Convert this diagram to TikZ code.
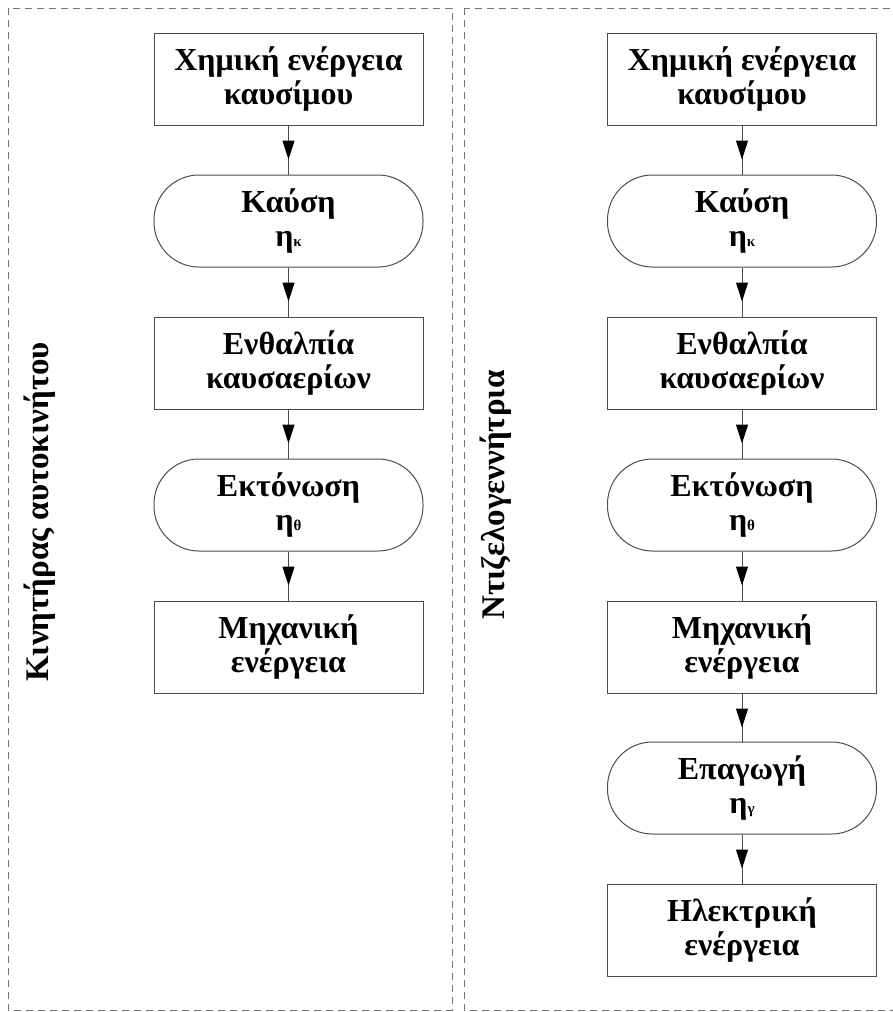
\documentclass[tikz,border=0pt]{standalone}
\usepackage{fontspec}
\setmainfont{Liberation Serif}
\usetikzlibrary{arrows.meta,decorations.markings}
\newcommand{\sbs}[1]{{\fontsize{15}{15}\selectfont #1}}
\tikzset{
  frame/.style={draw=black!55, line width=0.9pt, dash pattern=on 7pt off 5pt},
  box/.style={draw=black!70, line width=1pt, minimum width=269pt, minimum height=92pt,
    align=center, font=\fontsize{32}{34}\selectfont\bfseries, inner sep=0pt},
  proc/.style={box, rounded corners=45pt},
  flow/.style={draw=black!70, line width=1pt, postaction={decorate},
    decoration={markings, mark=at position 34pt with {\arrow[black]{Triangle[length=19pt,width=12pt]}}}},
  side/.style={rotate=90, font=\fontsize{33}{34}\selectfont\bfseries}
}
\begin{document}
\begin{tikzpicture}[x=1pt,y=-1pt]
\useasboundingbox (0,0) rectangle (893,1012);
\draw[frame] (8,8) rectangle (452,1010);
\draw[frame] (464,8) rectangle (905,1010);
\node[side] (lab1) at (40,512) {Κινητήρας αυτοκινήτου};
\node[side] (lab2) at (496,495) {Ντιζελογεννήτρια};
% left column
\node[box]  (a1) at (288.5,79)  {Χημική ενέργεια\\καυσίμου};
\node[proc] (a2) at (288.5,221) {Καύση\\η\sbs{κ}};
\node[box]  (a3) at (288.5,363) {Ενθαλπία\\καυσαερίων};
\node[proc] (a4) at (288.5,505) {Εκτόνωση\\η\sbs{θ}};
\node[box]  (a5) at (288.5,647) {Μηχανική\\ενέργεια};
% right column
\node[box]  (b1) at (742,79)  {Χημική ενέργεια\\καυσίμου};
\node[proc] (b2) at (742,221) {Καύση\\η\sbs{κ}};
\node[box]  (b3) at (742,363) {Ενθαλπία\\καυσαερίων};
\node[proc] (b4) at (742,505) {Εκτόνωση\\η\sbs{θ}};
\node[box]  (b5) at (742,647) {Μηχανική\\ενέργεια};
\node[proc] (b6) at (742,788) {Επαγωγή\\η\sbs{γ}};
\node[box]  (b7) at (742,930) {Ηλεκτρική\\ενέργεια};
\draw[flow] (a1) -- (a2);
\draw[flow] (a2) -- (a3);
\draw[flow] (a3) -- (a4);
\draw[flow] (a4) -- (a5);
\draw[flow] (b1) -- (b2);
\draw[flow] (b2) -- (b3);
\draw[flow] (b3) -- (b4);
\draw[flow] (b4) -- (b5);
\draw[flow] (b5) -- (b6);
\draw[flow] (b6) -- (b7);
\end{tikzpicture}
\end{document}
